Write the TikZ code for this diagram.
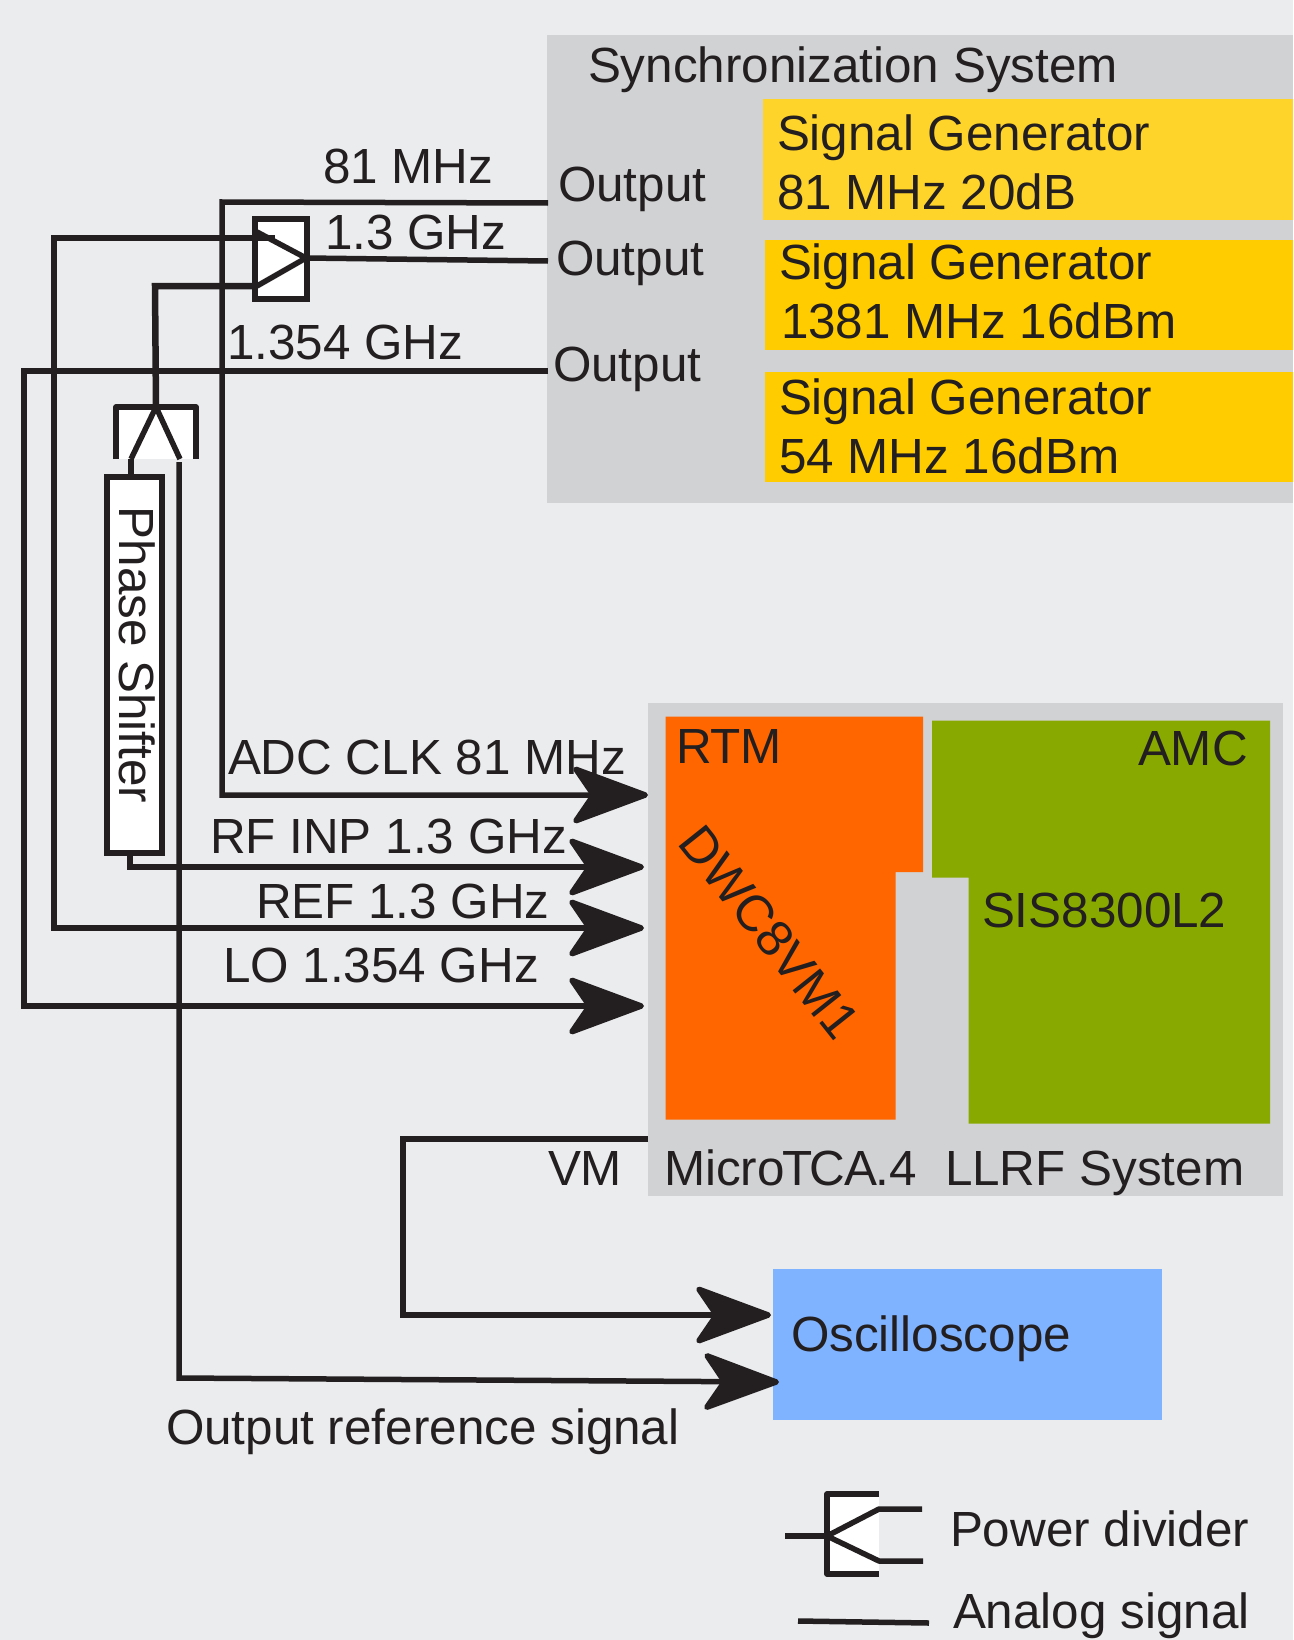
\documentclass[tikz,border=0pt]{standalone}
\usepackage{fontspec}
\setmainfont{Liberation Sans}
\usepackage{xcolor}
\usetikzlibrary{arrows.meta,positioning,calc}

\definecolor{bgcol}{HTML}{EBECEE}
\definecolor{graycol}{HTML}{D1D2D4}
\definecolor{inkcol}{HTML}{231F20}
\definecolor{gen1col}{HTML}{FFD42A}
\definecolor{gen2col}{HTML}{FFCC00}
\definecolor{rtmcol}{HTML}{FF6600}
\definecolor{amccol}{HTML}{88AA00}
\definecolor{scopecol}{HTML}{80B3FF}

\begin{document}
\begin{tikzpicture}[
    x=1pt, y=-1pt,
    area/.style={rectangle, inner sep=0pt, outer sep=0pt, anchor=north west},
    lab/.style={anchor=base west, inner sep=0pt, outer sep=0pt, yshift=2pt, text=inkcol, font=\fontsize{49.4}{49.4}\selectfont},
    wbox/.style={rectangle, draw=inkcol, fill=white, line width=6pt, inner sep=0pt, outer sep=0pt},
    sig/.style={draw=inkcol, line width=5.5pt, line join=miter},
    arr/.style={sig, -{Stealth[length=84pt, width=62pt, inset=21pt, round]}},
    part/.style={draw=inkcol, line width=5.5pt, line join=round}
]
    \fill [bgcol] (0,0) rectangle (1293,1640);
    \useasboundingbox (0,0) rectangle (1293,1640);

    \node [area, fill=graycol, minimum width=746pt, minimum height=468pt] (sync) at (547,35) {};
    \node [area, fill=gen1col, minimum width=530pt, minimum height=121pt] (gen1) at (763,99) {};
    \node [area, fill=gen2col, minimum width=528pt, minimum height=110pt] (gen2) at (765,240) {};
    \node [area, fill=gen2col, minimum width=528pt, minimum height=110pt] (gen3) at (765,372) {};
    \node [area, fill=graycol, minimum width=635pt, minimum height=493pt] (mtca) at (648,703) {};
    \node [area, fill=scopecol, minimum width=389pt, minimum height=151pt] (scope) at (773,1269) {};

    \fill [rtmcol] (665.5,716.5) -- (923,716.5) -- (923,872) -- (895.5,872) -- (895.5,1119.5) -- (665.5,1119.5) -- cycle;
    \fill [amccol] (932,720.5) -- (1270,720.5) -- (1270,1123.5) -- (968.5,1123.5) -- (968.5,877.5) -- (932,877.5) -- cycle;

    \coordinate (out81) at (548,203);
    \coordinate (out13) at (548,261);
    \coordinate (out1354) at (548,371);
    \coordinate (inclk) at (648,795);
    \coordinate (inrf) at (644,867);
    \coordinate (inref) at (644,928);
    \coordinate (inlo) at (644,1006);
    \coordinate (outvm) at (648,1139);
    \coordinate (scopevm) at (771,1315);
    \coordinate (scoperef) at (779,1382);
    \coordinate (turnvm) at (403,1139);
    \coordinate (turnref) at (179,1378);

    \node [wbox, minimum width=52pt, minimum height=80pt] (mixer) at (281,259) {};
    \node [wbox, minimum width=55pt, minimum height=376pt] (shifter) at (134.5,665) {};
    \node [rectangle, fill=white, inner sep=0pt, outer sep=0pt, minimum width=80pt, minimum height=52pt] (divider) at (156,433) {};
    \node [rectangle, fill=white, inner sep=0pt, outer sep=0pt, minimum width=52pt, minimum height=80pt] (legdiv) at (853,1534) {};

    \draw [part] (divider.south west) |- (divider.north east) -- (divider.south east);
    \draw [part] (legdiv.north east) -| (legdiv.south west) -- (legdiv.south east);

    \coordinate (mixa) at (257,238);
    \coordinate (mixb) at (257,286);
    \coordinate (mixo) at (306,258);
    \coordinate (diva) at (131,459);
    \coordinate (divb) at (180,459);

    \draw [part] (275,238) -- (mixa);
    \draw [part] (257,232) -- (mixo) -- (mixb);
    \draw [part] (divider.north) -- (diva);
    \draw [part] (divider.north) -- (divb);

    \draw [arr] (out81) -- (222,202) -- (222,795) -- (inclk);
    \draw [sig] (mixo) -- (out13);
    \draw [arr] (mixa) -- (54,238) -- (54,928) -- (inref);
    \draw [sig, line width=6.5pt] (divider.north) -- (155,286) -- (mixb);
    \draw [arr] (out1354) -- (24,371) -- (24,1006) -- (inlo);
    \draw [sig, line width=6.5pt] (diva) -- (shifter.north -| diva);
    \draw [arr] (130,855) -- (130,867) -- (inrf);
    \draw [arr] (179,462) -- (turnref) -- (scoperef);
    \draw [arr] (outvm) -- (turnvm) -- (403,1315) -- (scopevm);

    \coordinate (legin) at (785,1536);
    \coordinate (legap) at (827,1536);
    \draw [part] (legin) -- (legap);
    \draw [part] (legap) -- (879,1509) -- (922,1509);
    \draw [part] (legap) -- (879,1561) -- (923,1561);
    \coordinate (lega) at (798,1621);
    \coordinate (legb) at (929,1623);
    \draw [part] (lega) -- (legb);

    \node [lab] (tsync) at (588,85) {Synchronization System};
    \node [lab] (tgen1a) at (777,153) {Signal Generator};
    \node [lab] (tgen1b) at (777,211) {81 MHz 20dB};
    \node [lab] (tgen2a) at (779,281) {Signal Generator};
    \node [lab] (tgen2b) at (781,340) {1381 MHz 16dBm};
    \node [lab] (tgen3a) at (779,416) {Signal Generator};
    \node [lab] (tgen3b) at (779,475) {54 MHz 16dBm};
    \node [lab] (tout1) at (558,203) {Output};
    \node [lab] (tout2) at (556,277) {Output};
    \node [lab] (tout3) at (553,383) {Output};
    \node [lab] (t81) at (323,185) {81 MHz};
    \node [lab] (t13) at (325,251) {1.3 GHz};
    \node [lab] (t1354) at (227,361) {1.354 GHz};
    \node [lab, anchor=center, rotate=-90, yshift=-2pt] (tshift) at (139,657) {Phase Shifter};
    \node [lab] (tclk) at (228,776) {ADC CLK 81 MHz};
    \node [lab] (trf) at (210,855) {RF INP 1.3 GHz};
    \node [lab] (tref) at (256,920) {REF 1.3 GHz};
    \node [lab] (tlo) at (223,984) {LO 1.354 GHz};
    \node [lab] (trtm) at (676,765) {RTM};
    \node [lab] (tamc) at (1138,767) {AMC};
    \node [lab, anchor=center, rotate=-51.5, yshift=-2pt, font=\fontsize{51}{51}\selectfont] (tdwc) at (771,933) {DWC8VM1};
    \node [lab] (tsis) at (982,929) {SIS8300L2};
    \node [lab] (tvm) at (548,1187) {VM};
    \node [lab] (tmtca) at (664,1187) {Micro\kern-2pt T\kern-3pt C\kern-1pt A\kern-2pt.4};
    \node [lab] (tllrf) at (945,1187) {LLRF System};
    \node [lab] (tscope) at (791,1353) {Oscilloscope};
    \node [lab] (trefsig) at (166,1446) {Output reference signal};
    \node [lab] (tlegdiv) at (950,1548) {Power divider};
    \node [lab] (tlegsig) at (953,1630) {Analog signal};
\end{tikzpicture}
\end{document}
